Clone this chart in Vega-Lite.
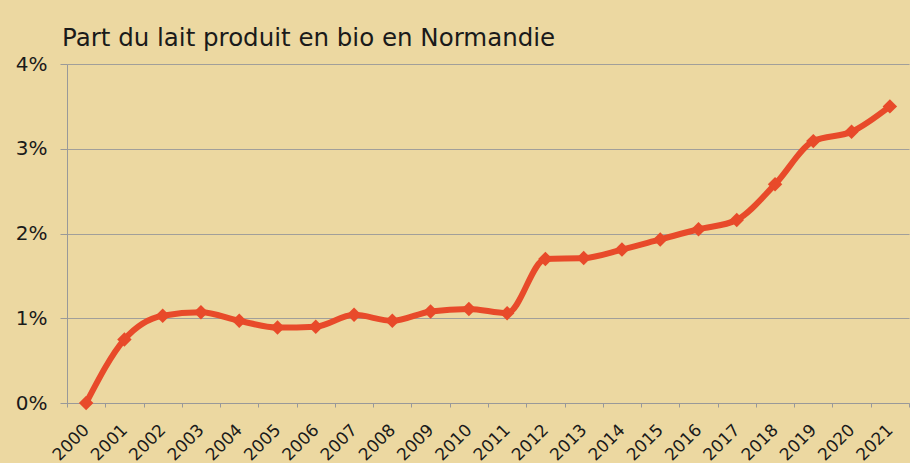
{
  "$schema": "https://vega.github.io/schema/vega-lite/v6.json",
  "autosize": {"type": "none"},
  "width": 842,
  "height": 339,
  "padding": {"left": 67, "top": 64, "right": 1, "bottom": 60},
  "background": "#ECD8A1",
  "title": {
    "text": "Part du lait produit en bio en Normandie",
    "anchor": "start",
    "frame": "group",
    "dx": -5,
    "offset": 3,
    "font": "DejaVu Sans",
    "fontSize": 24.5,
    "fontWeight": "normal",
    "color": "#1a1a1a"
  },
  "config": {
    "view": {"stroke": null},
    "font": "DejaVu Sans"
  },
  "data": {
    "values": [
      {"annee": "2000", "part": 0.0000},
      {"annee": "2001", "part": 0.0075},
      {"annee": "2002", "part": 0.0103},
      {"annee": "2003", "part": 0.0107},
      {"annee": "2004", "part": 0.0097},
      {"annee": "2005", "part": 0.0089},
      {"annee": "2006", "part": 0.0090},
      {"annee": "2007", "part": 0.0104},
      {"annee": "2008", "part": 0.0097},
      {"annee": "2009", "part": 0.0108},
      {"annee": "2010", "part": 0.0111},
      {"annee": "2011", "part": 0.0106},
      {"annee": "2012", "part": 0.0170},
      {"annee": "2013", "part": 0.0171},
      {"annee": "2014", "part": 0.0181},
      {"annee": "2015", "part": 0.0193},
      {"annee": "2016", "part": 0.0205},
      {"annee": "2017", "part": 0.0216},
      {"annee": "2018", "part": 0.0258},
      {"annee": "2019", "part": 0.0309},
      {"annee": "2020", "part": 0.0320},
      {"annee": "2021", "part": 0.0350}
    ]
  },
  "encoding": {
    "x": {
      "field": "annee",
      "type": "ordinal",
      "bandPosition": 0.5,
      "scale": {"type": "band", "paddingInner": 0, "paddingOuter": 0},
      "axis": {
        "title": null,
        "labelAngle": -45,
        "labelAlign": "right",
        "labelBaseline": "middle",
        "labelPadding": 20,
        "labelFontSize": 17,
        "labelColor": "#1a1a1a",
        "labelFont": "DejaVu Sans",
        "tickBand": "extent",
        "tickSize": 4,
        "tickColor": "#999999",
        "domainColor": "#999999",
        "grid": false
      }
    },
    "y": {
      "field": "part",
      "type": "quantitative",
      "scale": {"domain": [0, 0.04], "nice": false},
      "axis": {
        "title": null,
        "format": ".0%",
        "values": [0, 0.01, 0.02, 0.03, 0.04],
        "labelFontSize": 20,
        "labelColor": "#1a1a1a",
        "labelFont": "DejaVu Sans",
        "labelPadding": 13,
        "tickSize": 7,
        "tickColor": "#999999",
        "domainColor": "#999999",
        "grid": true,
        "gridColor": "#999999",
        "gridOpacity": 0.9
      }
    }
  },
  "layer": [
    {
      "mark": {"type": "line", "interpolate": "monotone", "color": "#E84A2A", "strokeWidth": 6}
    },
    {
      "mark": {"type": "point", "shape": "diamond", "filled": true, "color": "#E84A2A", "opacity": 1, "size": 210}
    }
  ]
}
